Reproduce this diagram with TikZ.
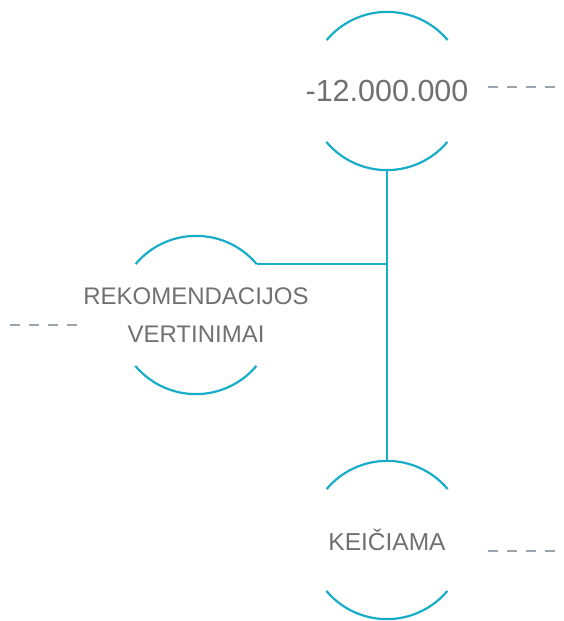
\documentclass[tikz,border=0pt]{standalone}
\usepackage{fontspec}
\setmainfont{Liberation Sans}
\definecolor{teal1}{HTML}{17ADC6}
\definecolor{txtgray}{HTML}{707070}
\definecolor{dashgray}{HTML}{9CA5AD}
\begin{document}
\begin{tikzpicture}[x=1pt,y=1pt,
  ring/.style={circle,minimum size=158pt,inner sep=0pt},
  label/.style={text=txtgray,align=center,inner sep=0pt},
  arcline/.style={teal1,line width=2.2pt},
  conn/.style={teal1,line width=2.2pt},
  dashline/.style={dashgray,line width=2.2pt,dash pattern=on 10pt off 9pt}]
\useasboundingbox (0,0) rectangle (563,621);
\node[ring] (top) at (387,530) {};
\node[ring] (left) at (196,306) {};
\node[ring] (bot) at (387,81) {};
\node[label,font=\fontsize{30.5}{36}\selectfont] (toptext) at (top.center) {-12.000.000};
\node[label,font=\fontsize{24}{38}\selectfont] (lefttext) at (left.center) {REKOMENDACIJOS\\VERTINIMAI};
\node[label,font=\fontsize{24.5}{30}\selectfont] (bottext) at (bot.center) {KEIČIAMA};
\foreach \n in {top,left,bot}{
  \draw[arcline] (\n.40) arc[start angle=40,end angle=140,radius=79pt];
  \draw[arcline] (\n.220) arc[start angle=220,end angle=320,radius=79pt];
}
\draw[conn] (top.south) -- (bot.north);
\draw[conn] (left.40) -- (left.40 -| top.south);
\coordinate (d1a) at (488,534); \coordinate (d1b) at (555,534);
\coordinate (d2a) at (10,296); \coordinate (d2b) at (77,296);
\coordinate (d3a) at (488,70); \coordinate (d3b) at (555,70);
\draw[dashline] (d1a) -- (d1b);
\draw[dashline] (d2a) -- (d2b);
\draw[dashline] (d3a) -- (d3b);
\end{tikzpicture}
\end{document}
